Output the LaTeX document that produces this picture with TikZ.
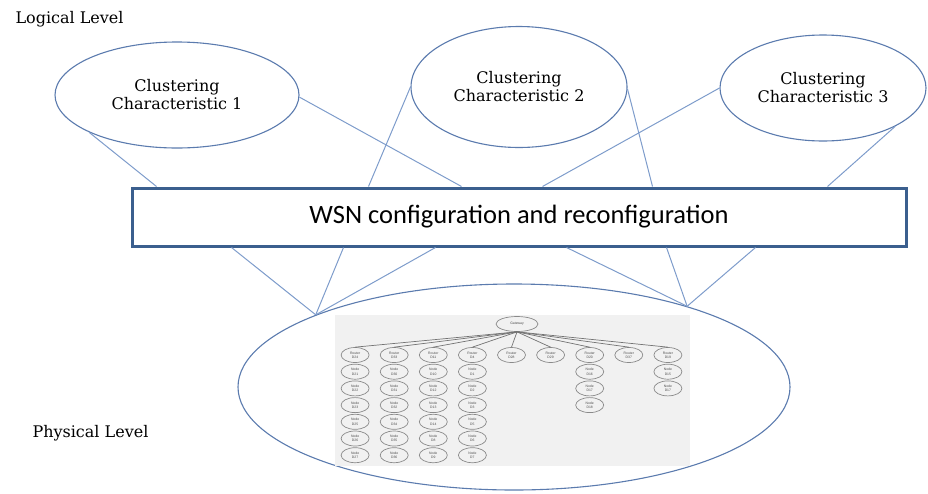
\documentclass[tikz,border=0pt]{standalone}
\usepackage{fontspec}
\setmainfont{DejaVu Serif}
\newfontfamily\boxfont{Carlito}
\newfontfamily\treefont{Liberation Sans}
\usetikzlibrary{shapes.geometric,positioning,calc}
\definecolor{ellblue}{HTML}{5B7BAE}
\definecolor{linkblue}{HTML}{7E9CCB}
\definecolor{boxblue}{HTML}{3B5F8E}
\definecolor{treebg}{HTML}{F1F1F1}
\definecolor{treegray}{HTML}{8A8A8A}

\begin{document}
\begin{tikzpicture}[x=1pt,y=-1pt,
    levelname/.style={anchor=base west, font=\fontsize{16}{18}\selectfont},
    charell/.style={ellipse, draw=ellblue, line width=1.1pt, inner sep=0pt, align=center, font=\fontsize{16}{18}\selectfont},
    link/.style={draw=linkblue, line width=1pt},
    treenode/.style={ellipse, draw=treegray, fill=treebg, line width=0.7pt, minimum width=28pt, minimum height=15pt, inner sep=0pt, align=center, font=\treefont\fontsize{3.4}{4.2}\selectfont, text=black!70},
    treeline/.style={draw=black!55, line width=0.7pt}]
\useasboundingbox (0,0) rectangle (928,493);
% Levels
\node[levelname] (logical) at (12,23.5) {Logical Level};
\node[levelname] (physical) at (29,437) {Physical Level};
% Clustering characteristics
\node[charell, minimum width=244pt, minimum height=106pt] (cc1) at (177,95) {Clustering\\Characteristic 1};
\node[charell, minimum width=216pt, minimum height=121pt] (cc2) at (519,87) {Clustering\\Characteristic 2};
\node[charell, minimum width=206pt, minimum height=106pt] (cc3) at (823,88) {Clustering\\Characteristic 3};
% Configuration box
\node[draw=boxblue, line width=3pt, fill=white, minimum width=774pt, minimum height=58pt, inner sep=0pt, font=\boxfont\fontsize{26.5}{30}\selectfont] (wsn) at (519,217) {WSN configuration and reconfiguration};
% Physical level
\node[ellipse, draw=ellblue, line width=1.1pt, minimum width=552pt, minimum height=206pt, inner sep=0pt] (phys) at (514,387) {};
\coordinate (pl) at (phys.160);
\coordinate (pr) at (phys.25);
% Links to the box
\draw[link] (cc1.203) -- ([xshift=26pt]wsn.north west);
\draw[link] (cc1.359) -- ([xshift=331pt]wsn.north west);
\draw[link] (cc2.180) -- ([xshift=238pt]wsn.north west);
\draw[link] (cc2.359) -- ([xshift=522pt]wsn.north west);
\draw[link] (cc3.180) -- ([xshift=412pt]wsn.north west);
\draw[link] (cc3.332) -- ([xshift=697pt]wsn.north west);
\foreach \dx in {101,213,305}
    \draw[link] ([xshift=\dx pt]wsn.south west) -- (pl);
\foreach \dx in {436,536,625}
    \draw[link] ([xshift=\dx pt]wsn.south west) -- (pr);
% Network tree
\fill[treebg] (335,315) rectangle (690,466);
\node[treenode, minimum width=42pt] (gw) at (517,324) {Gateway};
\foreach \col/\rt in {1/24,2/33,3/11,4/4,5/28,6/29,7/20,8/37,9/19} {
    \node[treenode] (r\col) at ({316+39.1*\col},355) {Router\\D\rt};
    \draw[treeline] (gw.south) -- (r\col.north);
}
\foreach \col/\list in {1/{21,22,23,25,26,27},2/{30,31,32,34,35,36},3/{10,12,13,14,8,9},4/{1,2,3,5,6,7},7/{16,17,18},9/{15,17}}
    \foreach \nd [count=\row] in \list
        \node[treenode] (n\col-\row) at ({316+39.1*\col},{355+16.7*\row}) {Node\\D\nd};
\end{tikzpicture}
\end{document}
